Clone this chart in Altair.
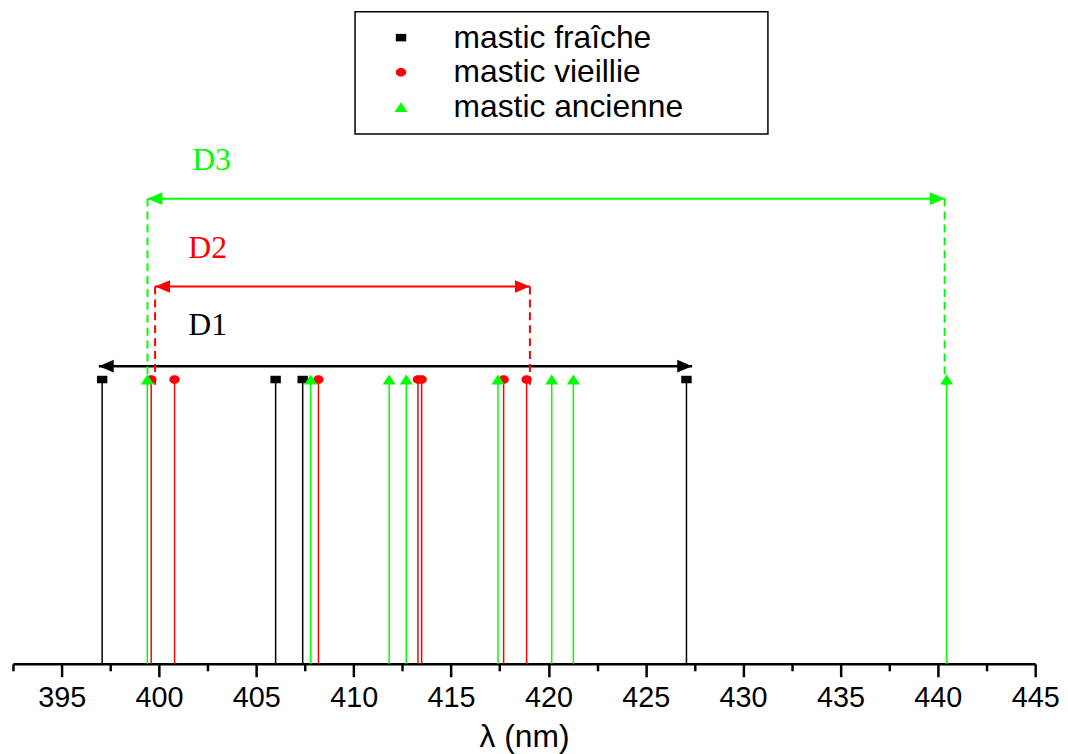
import altair as alt
import pandas as pd

# ---------------- data ----------------
categories = ["mastic fraîche", "mastic vieillie", "mastic ancienne"]
cat_colors = ["#000000", "#ff0000", "#00ff00"]
# square, (slightly flattened) circle, triangle-up as unit-box symbol paths
cat_shapes = [
    "M-1,-0.72L1,-0.72L1,0.72L-1,0.72Z",
    "M-1,0A1,0.82,0,1,1,1,0A1,0.82,0,1,1,-1,0Z",
    "M0,-0.95L1.25,0.95L-1.25,0.95Z",
]

fraiche_nm = [397.08, 405.99, 407.38, 427.09]
vieillie_nm = [399.60, 400.80, 408.19, 413.30, 413.49, 417.70, 418.88]
ancienne_nm = [399.40, 407.79, 411.82, 412.70, 417.41, 420.17, 421.28, 440.45]
stem_top = 1.0

arrow_names = ["D1", "D2", "D3"]
arrow_from = [396.91, 399.80, 399.41]
arrow_to = [427.38, 419.05, 440.35]
arrow_level = [1.047, 1.327, 1.636]
label_x = [402.5, 402.5, 402.7]
label_level = [1.190, 1.464, 1.773]
arrow_dashed = [False, True, True]

tick_values = [392.5, 395, 397.5, 400, 402.5, 405, 407.5, 410, 412.5, 415, 417.5,
               420, 422.5, 425, 427.5, 430, 432.5, 435, 437.5, 440, 442.5, 445]
x_domain = [392.5, 445]
y_domain = [0, 2.2967]

# ---------------- tables ----------------
stems = pd.DataFrame({
    "nm": fraiche_nm + vieillie_nm + ancienne_nm,
    "cat": [categories[0]] * len(fraiche_nm) + [categories[1]] * len(vieillie_nm)
           + [categories[2]] * len(ancienne_nm),
})
stems["y0"] = 0.0
stems["y1"] = stem_top

arrows = pd.DataFrame({
    "name": arrow_names, "cat": categories, "nm": arrow_from, "nm_end": arrow_to,
    "lvl": arrow_level, "lx": label_x, "ly": label_level, "dashed": arrow_dashed,
})
arrows["bottom"] = stem_top - 0.02

FONT = "Liberation Sans"

axis = alt.Axis(
    values=tick_values,
    labelExpr="datum.value % 5 === 0 ? datum.label : ''",
    tickSize={"condition": {"test": "datum.value % 5 === 0", "value": 13}, "value": 7},
    tickWidth=2.5, tickColor="black", domainColor="black", domainWidth=2.5,
    labelFont=FONT, labelFontSize=29, labelColor="black", labelPadding=7,
    labelFlush=False, labelOverlap=False,
    title="λ (nm)", titleFont=FONT, titleFontSize=32, titleFontWeight="normal",
    titleColor="black", titlePadding=9, grid=False,
)
xscale = alt.Scale(domain=x_domain, nice=False, zero=False)
yscale = alt.Scale(domain=y_domain, nice=False, zero=False)


def X(field="nm"):
    return alt.X(f"{field}:Q", scale=xscale, axis=axis)


def Y(field):
    return alt.Y(f"{field}:Q", scale=yscale, axis=None)


layers = []

# stems
for c, col in zip(categories, cat_colors):
    layers.append(
        alt.Chart(stems[stems["cat"] == c]).mark_rule(color=col, strokeWidth=1.5)
        .encode(x=X(), y=Y("y0"), y2="y1")
    )

legend = alt.Legend(
    title=None, orient="none", legendX=375, legendY=11, padding=0,
    labelFont=FONT, labelFontSize=32, labelColor="black", labelOffset=37,
    labelLimit=0, symbolSize=110, rowPadding=3, symbolStrokeWidth=0,
)

points = alt.Chart(stems).mark_point(filled=True, opacity=1, size=110, strokeWidth=0).encode(
    x=X(), y=Y("y1"),
    color=alt.Color("cat:N", scale=alt.Scale(domain=categories, range=cat_colors), legend=legend),
    shape=alt.Shape("cat:N", scale=alt.Scale(domain=categories, range=cat_shapes), legend=legend),
)
layers.append(points)

HEAD_RIGHT = "M0,0L-2,-0.85L-2,0.85Z"
HEAD_LEFT = "M0,0L2,-0.85L2,0.85Z"

for i, c in enumerate(categories):
    col = cat_colors[i]
    a = arrows.iloc[[i]]
    sw = 2.5 if i == 0 else 2
    layers.append(alt.Chart(a).mark_rule(color=col, strokeWidth=sw)
                  .encode(x=X(), x2="nm_end", y=Y("lvl")))
    layers.append(alt.Chart(a).mark_point(filled=True, opacity=1, shape=HEAD_LEFT, size=225,
                                          color=col, strokeWidth=0)
                  .encode(x=X(), y=Y("lvl")))
    layers.append(alt.Chart(a).mark_point(filled=True, opacity=1, shape=HEAD_RIGHT, size=225,
                                          color=col, strokeWidth=0)
                  .encode(x=X("nm_end"), y=Y("lvl")))
    if arrow_dashed[i]:
        for f in ["nm", "nm_end"]:
            layers.append(alt.Chart(a).mark_rule(color=col, strokeWidth=2, strokeDash=[8, 5])
                          .encode(x=X(f), y=Y("lvl"), y2="bottom"))
    layers.append(alt.Chart(a).mark_text(font="Liberation Serif", fontSize=32, color=col,
                                         align="center", baseline="middle")
                  .encode(x=X("lx"), y=Y("ly"), text="name:N"))

# legend frame
box = alt.Chart(pd.DataFrame({"k": [0]})).mark_rect(
    fillOpacity=0, stroke="black", strokeWidth=1.5
).encode(x=alt.value(344.7), x2=alt.value(760.7), y=alt.value(1), y2=alt.value(124))
layers.append(box)

chart = alt.layer(*layers).properties(
    width=1030, height=658,
    padding={"left": 3, "right": 0, "top": 0, "bottom": 0},
    background="white",
).configure_view(stroke=None)

chart.save("out.html", embed_options={"renderer": "svg", "actions": False})
